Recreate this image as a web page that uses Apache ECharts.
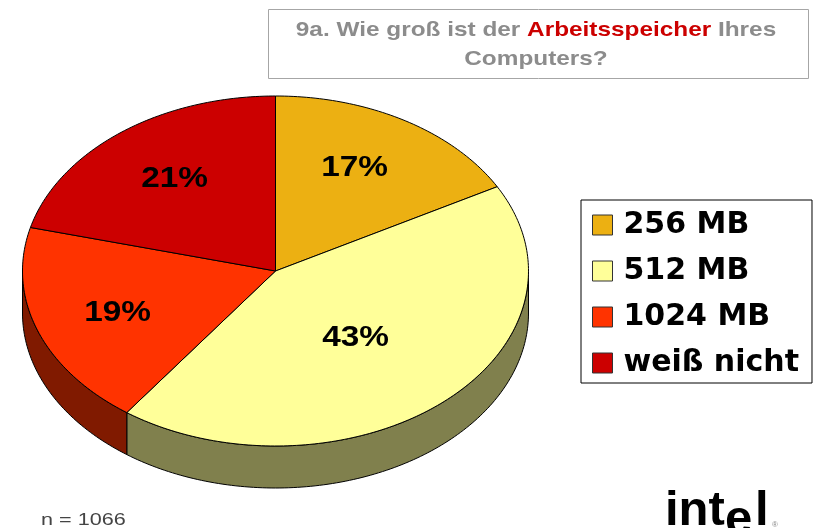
<!DOCTYPE html>
<html>
<head>
<meta charset="utf-8">
<title>Arbeitsspeicher</title>
<script src="https://cdn.jsdelivr.net/npm/echarts@6/dist/echarts.min.js"></script>
<style>
  html, body { margin: 0; padding: 0; background: #fff; }
  #main { width: 814px; height: 528px; }
</style>
</head>
<body>
<div id="main"></div>
<script>
var categories = ['256 MB', '512 MB', '1024 MB', 'weiß nicht'];
var values = [17, 43, 19, 21];
var sampleNote = 'n = 1066';

// farben
var topColors = ['#ecb012', '#ffff99', '#ff3300', '#cc0000'];
var wallColors = ['#76580a', '#80804d', '#801a00', '#660000'];

// ellipse der tortenoberseite
var cx = 275.5, cy = 271, rx = 253, ry = 175, depth = 42;
// lage der prozentzahlen, relativ zur mitte
var labelOffsets = [[79, -103], [80, 67], [-158, 42], [-101, -92]];

var total = values.reduce(function (a, b) { return a + b; }, 0);

function pointAt(deg, dy) {
  var r = deg * Math.PI / 180;
  return [cx + rx * Math.sin(r), cy - ry * Math.cos(r) + (dy || 0)];
}

function arc(from, to, dy) {
  var pts = [];
  for (var d = from; d < to; d += 1) pts.push(pointAt(d, dy));
  pts.push(pointAt(to, dy));
  return pts;
}

function makeRender(index) {
  return function (params, api) {
    var before = 0;
    for (var i = 0; i < index; i++) before += values[i];
    var start = before / total * 360;
    var end = start + api.value(0) / total * 360;
    var children = [];

    // seitenwand, nur der vordere teil der ellipse ist sichtbar
    var wallFrom = Math.max(start, 90), wallTo = Math.min(end, 270);
    if (wallFrom < wallTo) {
      children.push({
        type: 'polygon',
        shape: { points: arc(wallFrom, wallTo, 0).concat(arc(wallFrom, wallTo, depth).reverse()) },
        style: { fill: wallColors[index], stroke: '#000', lineWidth: 1 }
      });
    }
    children.push({
      type: 'polygon',
      shape: { points: [[cx, cy]].concat(arc(start, end, 0)) },
      style: { fill: topColors[index], stroke: '#000', lineWidth: 1 }
    });
    children.push({
      type: 'text',
      x: cx + labelOffsets[index][0],
      y: cy + labelOffsets[index][1],
      scaleX: 1.15,
      style: {
        text: api.value(0) + '%',
        align: 'center',
        verticalAlign: 'middle',
        fill: '#000',
        font: 'bold 29px "Liberation Sans"'
      }
    });
    return { type: 'group', children: children };
  };
}

var myChart = echarts.init(document.getElementById('main'));

var series = categories.map(function (name, i) {
  return {
    name: name,
    type: 'custom',
    coordinateSystem: 'none',
    itemStyle: { color: topColors[i] },
    renderItem: makeRender(i),
    data: [[values[i]]]
  };
});

var titleFont = { fontFamily: 'Liberation Sans', fontWeight: 'bold', fontSize: 21, lineHeight: 29 };

myChart.setOption({
  animation: false,
  backgroundColor: '#fff',
  legend: {
    orient: 'vertical',
    left: 581,
    top: 200,
    padding: [10, 13, 5, 11],
    itemGap: 16,
    itemWidth: 20,
    itemHeight: 20,
    icon: 'rect',
    selectedMode: false,
    borderColor: '#000',
    borderWidth: 1,
    backgroundColor: '#fff',
    itemStyle: { borderColor: '#333', borderWidth: 1 },
    textStyle: { fontFamily: 'DejaVu Sans', fontWeight: 'bold', fontSize: 30, lineHeight: 20, color: '#000', padding: [3, 0, 0, 6] },
    data: categories
  },
  graphic: [
    {
      type: 'rect',
      z: -1,
      shape: { x: 268.5, y: 9.5, width: 540, height: 69 },
      style: { fill: '#fff', stroke: '#a6a6a6', lineWidth: 1 }
    },
    {
      type: 'text',
      x: 536,
      y: 16,
      scaleX: 1.16,
      style: {
        text: '{g|9a. Wie groß ist der }{r|Arbeitsspeicher}{g| Ihres}\n{g|Computers?}',
        align: 'center',
        rich: {
          g: Object.assign({ fill: '#8c8c8c' }, titleFont),
          r: Object.assign({ fill: '#cc0000' }, titleFont)
        }
      }
    },
    {
      type: 'text',
      x: 41,
      y: 521,
      scaleX: 1.35,
      style: { text: sampleNote, verticalAlign: 'middle', fill: '#444', font: '16px "Liberation Sans"' }
    },
    // logo, das e sitzt tiefer
    { type: 'text', x: 665, y: 487, style: { text: 'int', fill: '#000', font: 'bold 49px "Liberation Sans"' } },
    { type: 'text', x: 725, y: 496, style: { text: 'e', fill: '#000', font: 'bold 49px "Liberation Sans"' } },
    { type: 'text', x: 755, y: 487, style: { text: 'l', fill: '#000', font: 'bold 49px "Liberation Sans"' } },
    { type: 'text', x: 772, y: 521, style: { text: '®', fill: '#888', font: '8px "Liberation Sans"' } }
  ],
  series: series
});
</script>
</body>
</html>
